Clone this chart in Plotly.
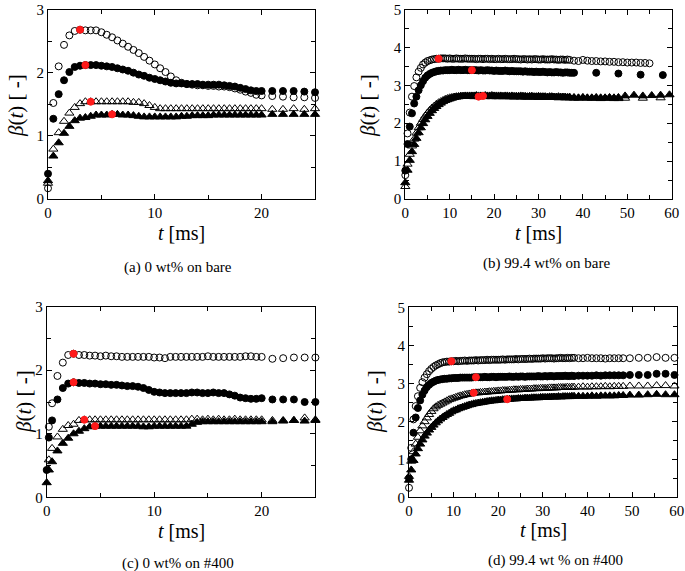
import plotly.graph_objects as go

# ---------------- sampling times ----------------
ta = [0.0, 0.5, 1.0, 1.5, 2.0, 2.5, 3.0, 3.5, 4.0, 4.5, 5.0, 5.5, 6.0, 6.5, 7.0, 7.5, 8.0, 8.5, 9.0, 9.5,
      10.0, 10.5, 11.0, 11.5, 12.0, 12.5, 13.0, 13.5, 14.0, 14.5, 15.0, 15.5, 16.0, 16.5, 17.0, 17.5,
      18.0, 18.5, 19.0, 19.5, 20.0, 21.0, 22.0, 23.0, 24.0, 25.0]
tc = [0.0, 0.2, 0.5, 1.0, 1.5, 2.0, 2.5, 3.0, 3.5, 4.0, 4.5, 5.0, 5.5, 6.0, 6.5, 7.0, 7.5, 8.0, 8.5, 9.0, 9.5,
      10.0, 10.5, 11.0, 11.5, 12.0, 12.5, 13.0, 13.5, 14.0, 14.5, 15.0, 15.5, 16.0, 16.5, 17.0, 17.5,
      18.0, 18.5, 19.0, 19.5, 20.0, 21.0, 22.0, 23.0, 24.0, 25.0]
t_dense = [i * 0.5 for i in range(75)]            # 0 ... 37 ms
t_mid = [38, 39, 40, 41, 42, 43, 44, 45, 46, 47, 48]
t_sparse = [49.5, 51.5, 53.5, 55.5, 57.5, 59.5]
tb_oc = t_dense + [38, 39, 40, 41, 42, 43, 44, 45, 46, 47, 48, 49, 50, 51, 52, 53, 54, 55]
tb_fc = [i * 0.5 for i in range(77)] + [43, 48, 53, 58]
tb_ft = t_dense + t_mid + t_sparse
tb_ot = t_dense + t_mid + [49.5, 53.5, 57.5]
td = t_dense + t_mid + t_sparse

# ---------------- (a) 0 wt% on bare ----------------
a_oc = [0.17, 1.52, 2.10, 2.44, 2.59, 2.66, 2.68, 2.67, 2.67, 2.67, 2.64, 2.60, 2.56, 2.51, 2.46, 2.41,
        2.36, 2.31, 2.25, 2.19, 2.13, 2.07, 2.01, 1.94, 1.88, 1.84, 1.82, 1.81, 1.80, 1.80, 1.79, 1.79,
        1.78, 1.78, 1.77, 1.75, 1.73, 1.70, 1.68, 1.65, 1.64, 1.63, 1.62, 1.61, 1.61, 1.60]
a_fc = [0.40, 1.27, 1.66, 1.88, 2.01, 2.09, 2.11, 2.12, 2.12, 2.12, 2.11, 2.10, 2.09, 2.07, 2.05, 2.03,
        2.00, 1.97, 1.95, 1.92, 1.90, 1.88, 1.86, 1.84, 1.83, 1.83, 1.82, 1.82, 1.82, 1.81, 1.81, 1.81,
        1.81, 1.80, 1.79, 1.78, 1.76, 1.74, 1.72, 1.71, 1.71, 1.71, 1.71, 1.71, 1.70, 1.69]
a_ot = [0.25, 0.79, 1.05, 1.23, 1.36, 1.45, 1.51, 1.54, 1.54, 1.54, 1.54, 1.54, 1.54, 1.54, 1.54, 1.54,
        1.53, 1.53, 1.51, 1.48, 1.45, 1.43, 1.43, 1.43, 1.43, 1.43, 1.43, 1.43, 1.43, 1.43, 1.43, 1.43,
        1.43, 1.43, 1.43, 1.43, 1.43, 1.43, 1.43, 1.43, 1.43, 1.42, 1.42, 1.43, 1.42, 1.43]
a_ft = [0.29, 0.68, 0.89, 1.04, 1.15, 1.24, 1.28, 1.29, 1.31, 1.33, 1.33, 1.33, 1.34, 1.34, 1.33, 1.33,
        1.32, 1.31, 1.30, 1.30, 1.30, 1.30, 1.30, 1.30, 1.30, 1.31, 1.31, 1.32, 1.32, 1.32, 1.32, 1.33,
        1.33, 1.33, 1.33, 1.33, 1.33, 1.33, 1.33, 1.33, 1.33, 1.34, 1.34, 1.34, 1.34, 1.34]
a_red_t = [3.0, 3.5, 4.0, 6.0]
a_red_v = [2.68, 2.12, 1.54, 1.34]

# ---------------- (b) 99.4 wt% on bare ----------------
b_oc = [0.63, 1.73, 2.28, 2.70, 2.98, 3.21, 3.36, 3.46, 3.55, 3.60, 3.64, 3.66, 3.68, 3.69, 3.70, 3.70,
        3.71, 3.71, 3.71, 3.70, 3.71, 3.70, 3.70, 3.71, 3.70, 3.70, 3.70, 3.71, 3.70, 3.70, 3.70,
        3.70, 3.69, 3.70, 3.70, 3.69, 3.70, 3.70, 3.69, 3.70, 3.69, 3.69, 3.70, 3.69, 3.69, 3.70, 3.69,
        3.69, 3.69, 3.70, 3.69,
        3.69, 3.68, 3.69, 3.69, 3.68, 3.69, 3.68, 3.69, 3.69, 3.68, 3.68, 3.69, 3.68, 3.68, 3.68, 3.69,
        3.68, 3.68, 3.67, 3.68, 3.68, 3.67, 3.68, 3.67,
        3.65, 3.64, 3.67, 3.65, 3.64, 3.64, 3.63, 3.63, 3.62, 3.62, 3.61, 3.61, 3.60, 3.60, 3.60, 3.59,
        3.59, 3.58]
b_fc = [0.75, 1.45, 1.91, 2.26, 2.52, 2.70, 2.87, 3.00, 3.11, 3.20, 3.26, 3.30, 3.33, 3.35, 3.37, 3.38, 3.39,
        3.39, 3.40, 3.40, 3.40, 3.41, 3.40, 3.40, 3.41, 3.40, 3.40, 3.41, 3.40, 3.40, 3.40,
        3.40, 3.40, 3.39, 3.40, 3.39, 3.39, 3.40, 3.39, 3.39, 3.38, 3.39, 3.38, 3.38, 3.38, 3.39, 3.38,
        3.37, 3.38, 3.37, 3.37,
        3.37, 3.37, 3.36, 3.37, 3.36, 3.36, 3.36, 3.35, 3.36, 3.35, 3.35, 3.36, 3.35, 3.34, 3.35, 3.34,
        3.34, 3.35, 3.34, 3.34, 3.33, 3.34, 3.34, 3.33, 3.33, 3.33,
        3.33, 3.31, 3.28, 3.27]
b_ot = [0.33, 0.92, 1.18, 1.40, 1.58, 1.74, 1.88, 2.00, 2.10, 2.19, 2.27, 2.34, 2.40, 2.45, 2.50, 2.54,
        2.57, 2.60, 2.63, 2.65, 2.67, 2.68, 2.69, 2.70, 2.70, 2.71, 2.71, 2.71, 2.71,
        2.71, 2.71, 2.70, 2.71, 2.70, 2.71, 2.71, 2.70, 2.71, 2.71, 2.70, 2.71, 2.70, 2.70, 2.71, 2.70,
        2.70, 2.70, 2.70, 2.70, 2.69, 2.70, 2.70, 2.69, 2.70, 2.69, 2.69, 2.69, 2.70, 2.69, 2.69, 2.68,
        2.69, 2.69, 2.68, 2.68, 2.69, 2.68, 2.68, 2.68, 2.67, 2.68, 2.68, 2.67, 2.67, 2.67,
        2.66, 2.66, 2.67, 2.66, 2.66, 2.66, 2.65, 2.66, 2.66, 2.65, 2.65,
        2.66, 2.66, 2.67]
b_ft = [0.43, 0.76, 1.02, 1.25, 1.44, 1.60, 1.75, 1.88, 1.99, 2.09, 2.18, 2.26, 2.33, 2.39, 2.44, 2.49,
        2.53, 2.57, 2.60, 2.62, 2.64, 2.66, 2.68, 2.69, 2.70, 2.71, 2.71, 2.72, 2.72,
        2.72, 2.72, 2.72, 2.73, 2.72, 2.72, 2.72, 2.73, 2.72, 2.72, 2.73, 2.72, 2.72, 2.72, 2.72, 2.71,
        2.72, 2.72, 2.71, 2.72, 2.71, 2.71, 2.71, 2.72, 2.71, 2.71, 2.70, 2.71, 2.71, 2.70, 2.70, 2.71,
        2.70, 2.70, 2.70, 2.69, 2.70, 2.70, 2.69, 2.69, 2.70, 2.69, 2.69, 2.69, 2.68, 2.69,
        2.68, 2.67, 2.68, 2.67, 2.67, 2.68, 2.67, 2.67, 2.68, 2.67, 2.68,
        2.72, 2.74, 2.72, 2.73, 2.74, 2.75]
b_red_t = [7.5, 15.0, 16.5, 17.5]
b_red_v = [3.70, 3.40, 2.70, 2.72]

# ---------------- (c) 0 wt% on #400 ----------------
c_oc = [None, 1.11, 1.48, 1.91, 2.12, 2.24, 2.26, 2.24, 2.24, 2.23, 2.23, 2.22, 2.23, 2.22, 2.22, 2.21,
        2.21, 2.21, 2.21, 2.21, 2.21, 2.20, 2.20, 2.19, 2.21, 2.21, 2.21, 2.21, 2.21, 2.21, 2.21, 2.22,
        2.21, 2.21, 2.21, 2.21, 2.21, 2.21, 2.22, 2.22, 2.21, 2.21, 2.18, 2.19, 2.20, 2.20, 2.20]
c_fc = [0.43, 0.94, 1.21, 1.54, 1.72, 1.79, 1.81, 1.80, 1.80, 1.79, 1.79, 1.78, 1.78, 1.77, 1.77, 1.76,
        1.75, 1.75, 1.74, 1.72, 1.69, 1.66, 1.65, 1.64, 1.64, 1.64, 1.64, 1.64, 1.65, 1.65, 1.64, 1.64,
        1.65, 1.64, 1.64, 1.62, 1.60, 1.57, 1.56, 1.55, 1.55, 1.56, 1.54, 1.54, 1.54, 1.50, 1.50]
c_ot = [None, 0.59, 0.77, 0.95, 1.07, 1.13, 1.15, 1.21, 1.22, 1.22, 1.22, 1.22, 1.22, 1.22, 1.22, 1.22,
        1.22, 1.22, 1.22, 1.22, 1.22, 1.22, 1.22, 1.22, 1.22, 1.22, 1.22, 1.22, 1.23, 1.23, 1.22, 1.23,
        1.22, 1.23, 1.22, 1.22, 1.23, 1.22, 1.22, 1.22, 1.22, 1.22, 1.21, 1.21, 1.21, 1.25, 1.22]
c_ft = [0.23, 0.43, 0.56, 0.73, 0.85, 0.93, 1.00, 1.04, 1.08, 1.11, 1.12, 1.12, 1.12, 1.12, 1.12, 1.12,
        1.12, 1.12, 1.12, 1.11, 1.11, 1.12, 1.12, 1.12, 1.12, 1.12, 1.12, 1.12, 1.15, 1.18, 1.19, 1.19,
        1.19, 1.19, 1.19, 1.19, 1.19, 1.19, 1.19, 1.19, 1.19, 1.19, 1.19, 1.20, 1.21, 1.20, 1.21]
c_red_t = [2.5, 2.5, 3.5, 4.5]
c_red_v = [2.26, 1.81, 1.22, 1.12]

# ---------------- (d) 99.4 wt % on #400 ----------------
d_oc = [0.25, 1.30, 2.05, 2.40, 2.66, 2.88, 3.03, 3.15, 3.24, 3.32, 3.38, 3.43, 3.47, 3.50, 3.53, 3.55,
        3.56, 3.57, 3.57, 3.58,
        3.58, 3.59, 3.58, 3.59, 3.59, 3.60, 3.59, 3.60, 3.60, 3.60, 3.61, 3.60, 3.61, 3.61, 3.61, 3.62,
        3.61, 3.62, 3.62, 3.62, 3.62,
        3.62, 3.63, 3.62, 3.63, 3.63, 3.63, 3.63, 3.64, 3.63, 3.64, 3.64, 3.64, 3.64, 3.65, 3.64, 3.65,
        3.65, 3.65, 3.65, 3.66,
        3.65, 3.66, 3.66, 3.66, 3.65, 3.66, 3.66, 3.67, 3.66, 3.66, 3.67, 3.66, 3.67, 3.67,
        3.66, 3.66, 3.67, 3.66, 3.66, 3.66, 3.65, 3.66, 3.66, 3.66, 3.66,
        3.66, 3.67, 3.67, 3.69, 3.67, 3.67]
d_fc = [0.50, 1.00, 1.70, 2.10, 2.35, 2.55, 2.70, 2.81, 2.90, 2.96, 3.01, 3.04, 3.07, 3.09, 3.10, 3.11,
        3.12, 3.12, 3.13, 3.13, 3.14, 3.14, 3.14, 3.15, 3.15, 3.15, 3.15, 3.15, 3.15, 3.16, 3.16,
        3.16, 3.16, 3.16, 3.17, 3.16, 3.16, 3.17, 3.17, 3.16, 3.17, 3.17, 3.17, 3.17, 3.17, 3.18, 3.17,
        3.17, 3.18, 3.17, 3.18, 3.18, 3.17, 3.18, 3.18, 3.18, 3.18, 3.18, 3.19, 3.18, 3.18, 3.19, 3.18,
        3.19, 3.19, 3.18, 3.19, 3.19, 3.19, 3.19, 3.20, 3.19, 3.19, 3.20, 3.19,
        3.20, 3.20, 3.20, 3.20, 3.21, 3.20, 3.21, 3.21, 3.21, 3.21, 3.21,
        3.22, 3.22, 3.22, 3.25, 3.25, 3.22]
d_ot = [0.55, 0.95, 1.20, 1.40, 1.58, 1.75, 1.88, 1.99, 2.09, 2.18, 2.26, 2.33, 2.38, 2.42, 2.45, 2.48,
        2.51, 2.54, 2.57, 2.59, 2.61, 2.63, 2.65, 2.67, 2.68, 2.70, 2.71, 2.72, 2.73, 2.74,
        2.75, 2.75, 2.76, 2.76, 2.77, 2.77, 2.78, 2.78, 2.79, 2.79, 2.80, 2.80, 2.81, 2.81, 2.81, 2.82,
        2.82, 2.83, 2.83, 2.83, 2.84, 2.84, 2.84, 2.85, 2.85, 2.85, 2.86, 2.86, 2.86, 2.87, 2.87, 2.87,
        2.87, 2.88, 2.88, 2.88, 2.88, 2.89, 2.89, 2.89, 2.89, 2.90, 2.89, 2.90, 2.90,
        2.90, 2.91, 2.90, 2.91, 2.91, 2.91, 2.92, 2.91, 2.92, 2.92, 2.92,
        2.93, 2.93, 2.93, 2.94, 2.94, 2.93]
d_ft = [0.45, 0.72, 0.97, 1.14, 1.28, 1.40, 1.51, 1.61, 1.69, 1.77, 1.84, 1.90, 1.96, 2.01, 2.06, 2.10,
        2.14, 2.18, 2.21, 2.25, 2.28, 2.30, 2.33, 2.35, 2.37, 2.39, 2.41, 2.43, 2.44, 2.46, 2.47, 2.48,
        2.49, 2.50, 2.51, 2.52, 2.53, 2.54, 2.54, 2.55, 2.56, 2.56, 2.57, 2.57, 2.58,
        2.58, 2.59, 2.59, 2.59, 2.60, 2.60, 2.60, 2.61, 2.61, 2.61, 2.62, 2.62, 2.62, 2.62, 2.63, 2.63,
        2.63, 2.63, 2.64, 2.64, 2.64, 2.64, 2.65, 2.64, 2.65, 2.65, 2.65, 2.65, 2.66, 2.66,
        2.66, 2.66, 2.66, 2.67, 2.66, 2.67, 2.67, 2.67, 2.67, 2.68, 2.68,
        2.69, 2.69, 2.70, 2.71, 2.70, 2.70]
d_red_t = [9.5, 15.0, 14.5, 22.0]
d_red_v = [3.58, 3.16, 2.75, 2.58]

captions = ["(a) 0 wt% on bare", "(b) 99.4 wt% on bare", "(c) 0 wt% on #400", "(d) 99.4 wt % on #400"]

# ---------------- figure ----------------
W, H = 685, 571
FONT = "Liberation Serif, Times New Roman, serif"
fig = go.Figure()


def px_x(p):
    return p / W


def px_y(p):
    return 1 - p / H


def add_series(t, v, symbol, k, size=7, color="black"):
    xa = "x" if k == 1 else "x%d" % k
    ya = "y" if k == 1 else "y%d" % k
    fig.add_trace(go.Scatter(
        x=t, y=v, mode="markers", xaxis=xa, yaxis=ya, cliponaxis=False,
        showlegend=False, hoverinfo="skip",
        marker=dict(symbol=symbol, size=size, color=color, line=dict(color=color, width=1)),
    ))


panels = [
    (1, [(ta, a_oc), (ta, a_fc), (ta, a_ot), (ta, a_ft)], (a_red_t, a_red_v)),
    (2, [(tb_oc, b_oc), (tb_fc, b_fc), (tb_ot, b_ot), (tb_ft, b_ft)], (b_red_t, b_red_v)),
    (3, [(tc, c_oc), (tc, c_fc), (tc, c_ot), (tc, c_ft)], (c_red_t, c_red_v)),
    (4, [(td, d_oc), (td, d_fc), (td, d_ot), (td, d_ft)], (d_red_t, d_red_v)),
]
symbols = ["circle-open", "circle", "triangle-up-open", "triangle-up"]
sizes = [7, 7, 8, 8]
for k, series, red in panels:
    for (t, v), s, sz in zip(series, symbols, sizes):
        add_series(t, v, s, k, size=sz)
    add_series(red[0], red[1], "circle", k, size=7, color="#ff1a1a")

# plot areas in pixels: (left, right, top, bottom), ranges
areas = {
    1: (48.0, 315.0, 9.5, 199.0, [0, 25], [0, 3]),
    2: (405.3, 671.7, 9.5, 199.0, [0, 60], [0, 5]),
    3: (46.7, 315.4, 306.7, 497.3, [0, 25], [0, 3]),
    4: (409.0, 676.7, 307.3, 497.3, [0, 60], [0, 5]),
}
tickfont = dict(family=FONT, size=15, color="black")
for k, (l, r, t, b, xr, yr) in areas.items():
    xname = "xaxis" if k == 1 else "xaxis%d" % k
    yname = "yaxis" if k == 1 else "yaxis%d" % k
    yref = "y" if k == 1 else "y%d" % k
    xref = "x" if k == 1 else "x%d" % k
    common = dict(showline=True, linecolor="black", linewidth=1, mirror="allticks",
                  ticks="inside", ticklen=5, tickwidth=1, tickcolor="black",
                  showgrid=False, zeroline=False, tickfont=tickfont, fixedrange=True,
                  automargin=False)
    fig.update_layout(**{
        xname: dict(domain=[px_x(l), px_x(r)], range=xr, tick0=0, dtick=10, anchor=yref,
                    minor=dict(dtick=5, ticks="inside", ticklen=4, tickcolor="black", showgrid=False),
                    **common),
        yname: dict(domain=[px_y(b), px_y(t)], range=yr, tick0=0, dtick=1, anchor=xref,
                    minor=dict(dtick=0.5, ticks="inside", ticklen=4, tickcolor="black", showgrid=False),
                    **common),
    })

ann = []
ytitle = "<i>β</i>(<i>t</i>) [ -]"
xtitle = "<i>t</i> [ms]"
ytitle_pos = [(16, 106), (368, 106), (24, 402), (375, 402)]
xtitle_pos = [(181, 233), (538, 233), (181, 531), (543, 530)]
cap_pos = [(178, 267), (546, 263), (178, 563), (555, 560)]
for i in range(4):
    ann.append(dict(x=px_x(ytitle_pos[i][0]), y=px_y(ytitle_pos[i][1]), xref="paper", yref="paper",
                    text=ytitle, textangle=-90, showarrow=False, xanchor="center", yanchor="middle",
                    font=dict(family=FONT, size=21, color="black")))
    ann.append(dict(x=px_x(xtitle_pos[i][0]), y=px_y(xtitle_pos[i][1]), xref="paper", yref="paper",
                    text=xtitle, showarrow=False, xanchor="center", yanchor="middle",
                    font=dict(family=FONT, size=20, color="black")))
    ann.append(dict(x=px_x(cap_pos[i][0]), y=px_y(cap_pos[i][1]), xref="paper", yref="paper",
                    text=captions[i], showarrow=False, xanchor="center", yanchor="middle",
                    font=dict(family=FONT, size=15, color="black")))

fig.update_layout(width=W, height=H, autosize=False, margin=dict(l=0, r=0, t=0, b=0, pad=0),
                  paper_bgcolor="white", plot_bgcolor="white", annotations=ann, showlegend=False)

fig.write_html("out.html", include_plotlyjs=True, config={"displayModeBar": False},
               post_script="document.body.style.margin='0px';document.body.style.padding='0px';"
                           "document.documentElement.style.overflow='hidden';")
